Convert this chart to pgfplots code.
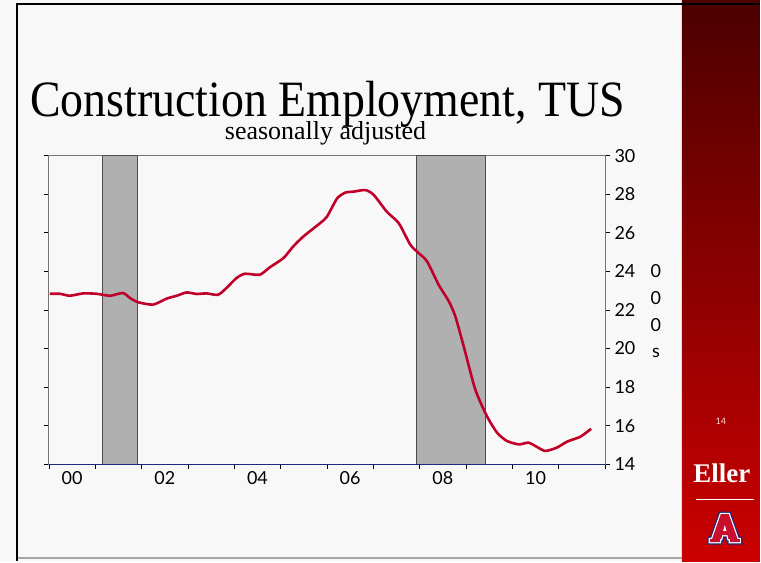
\documentclass[border=0pt]{standalone}
\usepackage{fontspec}
\setmainfont{Liberation Serif}
\newfontfamily\lab{Lato}
\usepackage{pgfplots}
\pgfplotsset{compat=1.18}
\definecolor{bg}{HTML}{F8F8F8}
\definecolor{lineRed}{HTML}{C0002A}
\definecolor{band}{HTML}{B0B0B0}
\definecolor{barTop}{HTML}{4C0000}
\definecolor{barBot}{HTML}{CC0000}
\definecolor{navy}{HTML}{1A2A80}
\definecolor{logoRed}{HTML}{C8102E}
\begin{document}
\begin{tikzpicture}
\begin{scope}[x=1pt,y=1pt]
\fill[bg] (0,0) rectangle (761,562);
\shade[top color=barTop, bottom color=barBot] (683,0) rectangle (761,562);
\draw[gray!70, line width=1.2] (17,3) -- (683,3);
\draw[black, line width=2.5] (17,0) -- (17,558) -- (761,558);
% title
\node[anchor=base] at (328,445) {\scalebox{0.9}[1]{\fontsize{51}{55}\selectfont Construction Employment, TUS}};
\node[anchor=base] at (326,422) {\fontsize{26}{28}\selectfont seasonally adjusted};
% right bar decorations
\node[text=white!85!red] at (722,140) {\lab\fontsize{9}{10}\selectfont 14};
\node[text=white] at (723,88) {\fontsize{27}{28}\selectfont\bfseries Eller};
\draw[white, line width=1.2] (697,62) -- (755,62);
\begin{scope}[shift={(726,33)}]
\def\Apath{(-15,-14) -- (-5,-14) -- (-5,-11) -- (-3.6,-11) -- (-2.7,-7) -- (2.7,-7) -- (3.6,-11) -- (5,-11) -- (5,-14) -- (15,-14) -- (15,-11) -- (12.8,-11) -- (4,14) -- (-4,14) -- (-12.8,-11) -- (-15,-11) -- cycle (-1.8,-3) -- (1.8,-3) -- (0,3.5) -- cycle}
\draw[navy, line width=5pt, line join=miter] \Apath;
\draw[white, line width=2.4pt, line join=miter] \Apath;
\fill[logoRed, even odd rule] \Apath;
\end{scope}
% stacked unit label
\node[align=center, font=\lab\fontsize{18}{26.7}\selectfont] at (657,250) {0\\0\\0\\s};
\end{scope}
\begin{axis}[
  at={(49pt,97pt)}, anchor=south west, scale only axis,
  width=557pt, height=309pt,
  xmin=2000, xmax=2012, ymin=14, ymax=30,
  axis line style={gray!90!black, line width=1pt},
  xtick={2000,2001,...,2012}, xticklabels={},
  extra x ticks={2000.5,2002.5,2004.5,2006.5,2008.5,2010.5},
  extra x tick labels={00,02,04,06,08,10},
  extra x tick style={major tick length=0pt},
  xtick pos=bottom,
  ytick={14,16,...,30},
  ytick pos=both,
  yticklabel pos=right,
  tick align=outside,
  major tick length=5pt,
  tick style={black, line width=0.8pt},
  /pgf/number format/assume math mode=true,
  ticklabel style={font=\lab\fontsize{18}{20}\selectfont},
  xticklabel style={yshift=-4pt},
  yticklabel style={xshift=1pt},
  clip=false,
]
\addplot[fill=band, draw=black!70, line width=0.9pt] coordinates {(2001.16,14) (2001.16,30) (2001.90,30) (2001.90,14)} -- cycle;
\addplot[fill=band, draw=black!70, line width=0.9pt] coordinates {(2007.94,14) (2007.94,30) (2009.42,30) (2009.42,14)} -- cycle;
\addplot[lineRed, line width=2.6pt, smooth, tension=0.4] coordinates {
(2000.02,22.84)(2000.24,22.84)(2000.45,22.74)(2000.74,22.86)(2001.03,22.84)(2001.32,22.74)(2001.6,22.88)(2001.75,22.62)(2001.93,22.40)(2002.25,22.28)(2002.54,22.59)(2002.76,22.74)(2002.97,22.91)(2003.19,22.83)(2003.4,22.86)(2003.65,22.79)(2003.83,23.14)(2004.05,23.66)(2004.23,23.88)(2004.55,23.83)(2004.77,24.22)(2005.06,24.69)(2005.27,25.29)(2005.49,25.81)(2005.85,26.50)(2006.0,26.84)(2006.22,27.79)(2006.4,28.09)(2006.58,28.14)(2006.83,28.22)(2007.01,27.97)(2007.29,27.10)(2007.55,26.5)(2007.8,25.38)(2007.98,24.95)(2008.16,24.52)(2008.41,23.31)(2008.63,22.45)(2008.77,21.67)(2008.95,20.12)(2009.2,17.88)(2009.45,16.5)(2009.67,15.64)(2009.88,15.21)(2010.14,15.03)(2010.35,15.12)(2010.53,14.9)(2010.71,14.69)(2010.96,14.86)(2011.18,15.17)(2011.47,15.43)(2011.7,15.84)};
\draw[navy, line width=1pt] (rel axis cs:0,0) -- (rel axis cs:1,0);
\end{axis}
\end{tikzpicture}
\end{document}
